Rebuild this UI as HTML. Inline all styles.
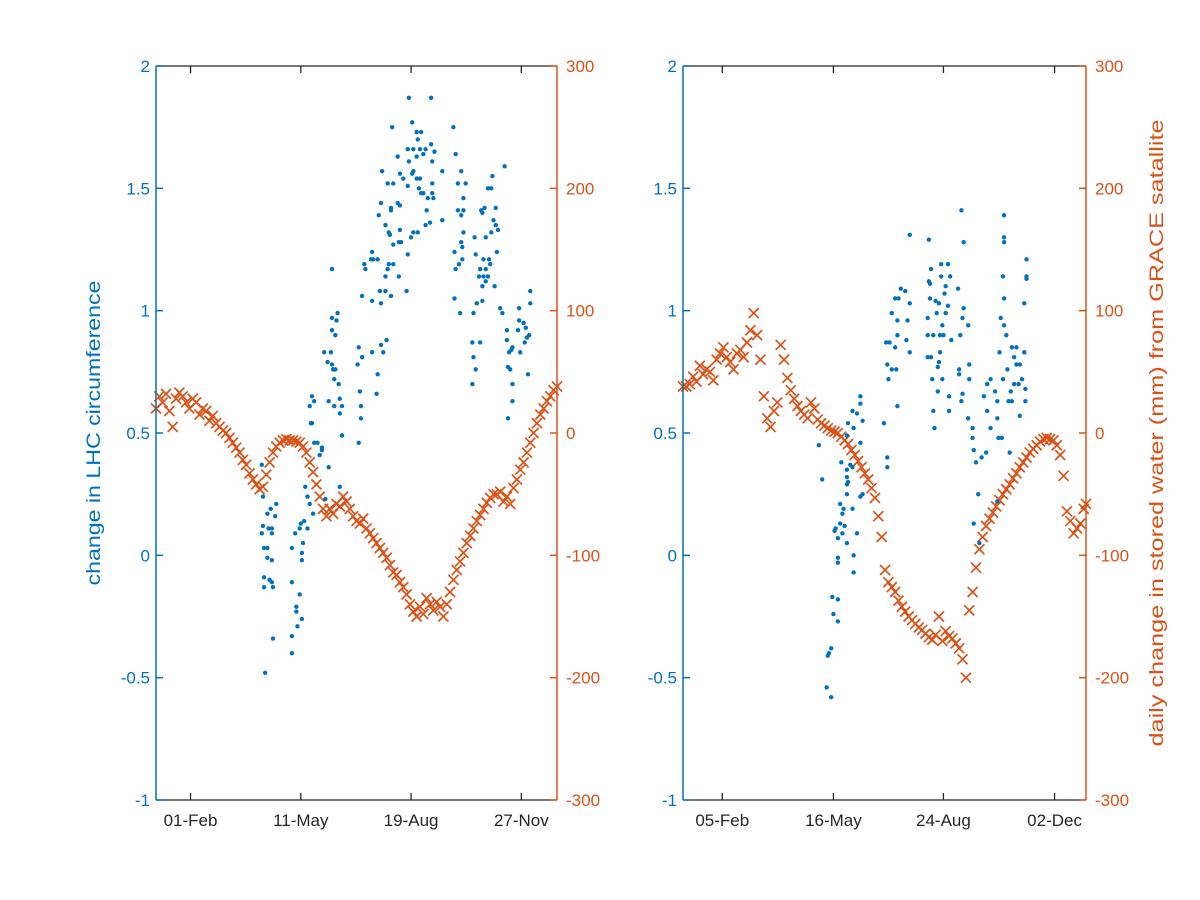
<!DOCTYPE html>
<html><head><meta charset="utf-8"><style>
html,body{margin:0;padding:0;background:#fff;}
svg{display:block;font-family:"Liberation Sans",Helvetica,Arial,sans-serif;}
</style></head><body>
<svg id="chart" width="1200" height="900" viewBox="0 0 1200 900" xmlns="http://www.w3.org/2000/svg">
<rect width="1200" height="900" fill="#fff"/>
<text transform="translate(100,433) rotate(-90)" text-anchor="middle" font-size="19" fill="#0072BD" textLength="305" lengthAdjust="spacingAndGlyphs">change in LHC circumference</text>
<text transform="translate(1163,433) rotate(-90)" text-anchor="middle" font-size="19" fill="#D95319" textLength="627" lengthAdjust="spacingAndGlyphs">daily change in stored water (mm) from GRACE satallite</text>
</svg>
<script>
// ---------- shared ticks ----------
const leftTickValues = [-1, -0.5, 0, 0.5, 1, 1.5, 2];
const leftTickLabels = ["-1", "-0.5", "0", "0.5", "1", "1.5", "2"];
const rightTickValues = [-300, -200, -100, 0, 100, 200, 300];
const rightTickLabels = ["-300", "-200", "-100", "0", "100", "200", "300"];

// ---------- panel 1 ----------
const p1DateTicks = [31, 130, 229, 328];
const p1DateLabels = ["01-Feb", "11-May", "19-Aug", "27-Nov"];
const p1WaterDays = [0,3,6,9,12,15,18,21,24,27,30,33,36,39,42,45,48,51,54,57,60,63,66,69,72,75,78,81,84,87,90,93,96,99,102,105,108,111,114,117,120,123,126,129,132,135,138,141,144,147,150,153,156,159,162,165,168,171,174,177,180,183,186,189,192,195,198,201,204,207,210,213,216,219,222,225,228,231,234,237,240,243,246,249,252,255,258,261,264,267,270,273,276,279,282,285,288,291,294,297,300,303,306,309,312,315,318,321,324,327,330,333,336,339,342,345,348,351,354,357,360];
const p1WaterValues = [20,30,25,32,18,5,28,33,30,25,20,28,25,15,20,18,10,14,8,5,2,0,-4,-8,-12,-16,-22,-26,-33,-38,-42,-46,-44,-34,-24,-16,-11,-8,-6,-5,-6,-6,-7,-8,-11,-16,-24,-32,-42,-52,-62,-68,-62,-66,-58,-60,-52,-56,-62,-68,-72,-74,-70,-78,-82,-86,-90,-94,-98,-102,-108,-114,-116,-122,-126,-132,-140,-146,-150,-142,-148,-135,-140,-145,-138,-142,-150,-140,-130,-120,-112,-105,-98,-90,-84,-78,-72,-67,-62,-57,-53,-50,-50,-48,-56,-52,-58,-45,-38,-30,-24,-16,-8,0,8,15,20,26,30,35,38];
const p1LhcDays = [227,247,230,212,267,234,238,235,226,231,247,242,237,250,217,234,240,227,248,269,313,257,274,203,231,208,213,219,222,230,234,237,302,248,226,236,240,238,248,249,244,271,278,301,298,276,202,211,211,217,219,243,271,276,274,295,292,293,305,200,257,206,246,242,303,305,307,301,276,209,210,219,235,231,229,286,296,218,220,213,274,275,268,287,306,226,194,193,195,199,187,188,208,209,213,269,272,275,291,294,299,300,296,158,290,294,298,206,218,296,293,304,201,185,206,211,225,194,202,268,293,288,336,336,309,311,273,285,158,163,162,326,326,330,332,335,333,331,315,315,325,158,161,207,202,204,194,182,185,181,157,151,154,158,159,161,160,164,284,291,285,287,284,319,317,320,316,318,320,327,334,199,198,183,184,184,320,316,140,142,138,155,160,167,165,165,139,140,167,167,182,142,145,149,149,147,155,95,165,134,136,138,152,96,108,103,100,107,141,133,130,96,101,104,125,136,95,104,129,97,100,122,132,131,100,104,131,122,129,97,102,97,104,105,126,126,131,127,105,122,122,98];
const p1LhcValues = [1.87,1.87,1.77,1.75,1.75,1.73,1.73,1.70,1.66,1.66,1.68,1.66,1.66,1.65,1.63,1.63,1.64,1.61,1.61,1.64,1.59,1.57,1.57,1.57,1.57,1.52,1.52,1.56,1.54,1.56,1.54,1.54,1.55,1.52,1.51,1.50,1.48,1.48,1.48,1.46,1.46,1.52,1.52,1.50,1.50,1.46,1.44,1.42,1.41,1.44,1.43,1.41,1.41,1.41,1.39,1.42,1.41,1.40,1.42,1.39,1.37,1.35,1.36,1.35,1.37,1.35,1.33,1.32,1.32,1.32,1.31,1.33,1.32,1.32,1.30,1.30,1.30,1.28,1.28,1.27,1.28,1.26,1.24,1.23,1.24,1.23,1.24,1.21,1.21,1.21,1.19,1.17,1.17,1.19,1.19,1.17,1.19,1.21,1.17,1.21,1.21,1.19,1.17,1.17,1.14,1.14,1.14,1.14,1.14,1.12,1.10,1.10,1.08,1.06,1.08,1.06,1.08,1.04,1.03,1.05,1.04,1.03,1.08,1.03,1.01,0.99,0.99,0.99,0.97,0.99,0.96,1.01,0.96,0.95,0.93,0.90,0.89,0.87,0.92,0.88,0.92,0.92,0.90,0.88,0.86,0.83,0.83,0.85,0.81,0.78,0.83,0.83,0.79,0.78,0.76,0.76,0.72,0.70,0.87,0.87,0.81,0.76,0.70,0.84,0.83,0.85,0.77,0.76,0.70,0.83,0.74,0.74,0.66,0.67,0.61,0.56,0.63,0.56,0.65,0.63,0.61,0.63,0.61,0.61,0.64,0.58,0.54,0.54,0.49,0.49,0.46,0.46,0.46,0.44,0.43,0.41,0.36,0.37,0.28,0.28,0.24,0.21,0.23,0.24,0.21,0.19,0.17,0.16,0.17,0.14,0.13,0.12,0.11,0.11,0.09,0.11,0.09,0.09,0.11,0.03,0.03,0.03,0.05,0.01,-0.01,-0.02,-0.02,-0.11,-0.16,-0.09,-0.10,-0.13,-0.11,-0.13,-0.21,-0.23,-0.26,-0.29,-0.34,-0.33,-0.40,-0.48];

// ---------- panel 2 ----------
const p2DateTicks = [37, 136, 234, 333];
const p2DateLabels = ["05-Feb", "16-May", "24-Aug", "02-Dec"];
const p2WaterDays = [2,5,8,11,14,17,20,23,26,29,32,35,38,41,44,47,50,53,56,59,62,65,68,71,74,77,80,83,86,89,92,95,98,101,104,107,110,113,116,119,122,125,128,131,134,137,140,143,146,149,152,155,158,161,164,167,170,173,176,179,182,185,188,191,194,197,200,203,206,209,212,215,218,221,224,227,230,233,236,239,242,245,248,251,254,257,260,263,266,269,272,275,278,281,284,287,290,293,296,299,302,305,308,311,314,317,320,323,326,329,332,335,338,341,344,347,350,353,356,359,361];
const p2WaterValues = [38,38,40,46,42,55,48,52,50,43,60,65,70,62,58,52,65,68,62,74,84,98,80,60,30,12,5,18,25,72,60,45,35,28,22,18,15,12,25,20,11,8,6,4,2,1,0,-3,-6,-9,-14,-18,-23,-28,-33,-38,-45,-53,-68,-85,-112,-122,-126,-130,-137,-142,-146,-150,-153,-156,-159,-161,-164,-167,-169,-165,-150,-170,-162,-166,-168,-172,-176,-185,-200,-145,-130,-110,-95,-85,-76,-70,-65,-60,-55,-50,-46,-42,-37,-33,-28,-24,-20,-16,-13,-10,-7,-5,-4,-5,-6,-10,-18,-35,-64,-72,-82,-78,-74,-62,-58];
const p2LhcDays = [250,288,204,221,252,288,288,308,308,308,232,238,223,221,222,232,240,236,287,196,200,247,235,191,194,204,222,227,230,238,288,306,252,188,220,228,236,251,285,256,193,202,288,233,249,220,225,231,234,241,290,193,201,183,186,191,204,220,223,231,284,295,299,306,297,302,230,229,184,188,248,257,192,291,299,185,248,224,233,257,287,297,304,301,276,273,280,294,307,193,229,239,251,250,270,282,292,295,307,225,239,273,282,302,256,260,226,276,283,286,260,261,293,263,268,272,265,282,261,266,160,160,157,153,162,149,154,160,123,148,143,151,153,148,148,149,148,162,160,148,142,145,153,144,142,146,138,137,144,157,140,148,154,140,140,154,126,181,184,184,135,140,136,140,134,132,131,130,134];
const p2LhcValues = [1.41,1.39,1.31,1.29,1.28,1.30,1.28,1.21,1.14,1.13,1.19,1.19,1.17,1.12,1.11,1.14,1.14,1.10,1.14,1.09,1.08,1.09,1.07,1.05,1.05,1.03,1.05,1.04,1.03,1.02,1.05,1.03,1.01,0.99,0.97,0.99,0.99,0.97,0.97,0.94,0.96,0.96,0.94,0.94,0.90,0.90,0.90,0.90,0.90,0.88,0.90,0.90,0.88,0.87,0.87,0.85,0.83,0.81,0.81,0.83,0.83,0.85,0.85,0.83,0.81,0.78,0.79,0.77,0.78,0.76,0.76,0.78,0.76,0.76,0.78,0.72,0.74,0.72,0.72,0.72,0.72,0.70,0.72,0.70,0.72,0.70,0.67,0.67,0.68,0.61,0.67,0.65,0.66,0.63,0.65,0.63,0.63,0.63,0.63,0.59,0.59,0.59,0.56,0.57,0.56,0.52,0.52,0.52,0.48,0.48,0.48,0.43,0.42,0.38,0.40,0.42,0.25,0.22,0.13,0.05,0.65,0.62,0.58,0.59,0.55,0.54,0.52,0.46,0.45,0.49,0.38,0.37,0.36,0.35,0.32,0.30,0.29,0.25,0.24,0.25,0.21,0.19,0.19,0.17,0.13,0.12,0.11,0.10,0.09,0.09,0.07,0.05,0.00,-0.01,-0.03,-0.07,0.31,0.54,0.40,0.36,-0.17,-0.18,-0.24,-0.27,-0.38,-0.40,-0.41,-0.54,-0.58];

const NS = "http://www.w3.org/2000/svg";
const svg = document.getElementById("chart");
const BLUE = "#0072BD", ORANGE = "#D95319", DARK = "#262626";
function mk(tag, attrs, parent) {
  const e = document.createElementNS(NS, tag);
  for (const k in attrs) e.setAttribute(k, attrs[k]);
  (parent || svg).appendChild(e);
  return e;
}

function drawPanel(id, x0, x1, d0, d1, dateTicks, dateLabels, wDays, wVals, lDays, lVals) {
  const top = 66, bot = 800;
  const sx = d => x0 + (d - d0) / (d1 - d0) * (x1 - x0);
  const syL = v => bot - (v - (-1)) / 3 * (bot - top);
  const syR = v => bot - (v - (-300)) / 600 * (bot - top);
  const g = mk("g", {});
  
  

  const gw = mk("g", {stroke: ORANGE, "stroke-width": 1.7, fill: "none"}, g);
  
  
  for (let i = 0; i < wDays.length; i++) {
    const cx = sx(wDays[i]), cy = syR(wVals[i]), s = 5;
    const p = mk("path", {d: `M${cx-s},${cy-s}L${cx+s},${cy+s}M${cx-s},${cy+s}L${cx+s},${cy-s}`}, gw);
    
    
  }
  const gl = mk("g", {fill: BLUE}, g);
  
  
  for (let i = 0; i < lDays.length; i++) {
    const c = mk("circle", {cx: sx(lDays[i]), cy: syL(lVals[i]), r: 2.2}, gl);
    
    
  }

  const axB = mk("path", {d: `M${x0},${bot}H${x1}M${x0},${top}H${x1}`, stroke: DARK, "stroke-width": 1.3, fill: "none"}, g);
  
  
  for (let i = 0; i < dateTicks.length; i++) {
    const x = sx(dateTicks[i]);
    const t = mk("path", {d: `M${x},${bot}V${bot-7}M${x},${top}V${top+7}`, stroke: DARK, "stroke-width": 1.3}, g);
    
    
    const lb = mk("text", {x: x, y: 826, "text-anchor": "middle", "font-size": 17, fill: DARK}, g);
    lb.textContent = dateLabels[i];
    
    
  }
  const axL = mk("path", {d: `M${x0},${top}V${bot}`, stroke: BLUE, "stroke-width": 1.5}, g);
  
  
  for (let i = 0; i < leftTickValues.length; i++) {
    const y = syL(leftTickValues[i]);
    const t = mk("path", {d: `M${x0},${y}H${x0+7}`, stroke: BLUE, "stroke-width": 1.5}, g);
    
    
    const lb = mk("text", {x: x0 - 6, y: y + 6, "text-anchor": "end", "font-size": 17, fill: BLUE}, g);
    lb.textContent = leftTickLabels[i];
    
    
  }
  const axR = mk("path", {d: `M${x1},${top}V${bot}`, stroke: ORANGE, "stroke-width": 1.5}, g);
  
  
  for (let i = 0; i < rightTickValues.length; i++) {
    const y = syR(rightTickValues[i]);
    const t = mk("path", {d: `M${x1},${y}H${x1-7}`, stroke: ORANGE, "stroke-width": 1.5}, g);
    
    
    const lb = mk("text", {x: x1 + 9, y: y + 6, "text-anchor": "start", "font-size": 17, fill: ORANGE}, g);
    lb.textContent = rightTickLabels[i];
    
    
  }
}

drawPanel('left-panel', 156, 557, 0, 360, p1DateTicks, p1DateLabels, p1WaterDays, p1WaterValues, p1LhcDays, p1LhcValues);
drawPanel('right-panel', 683, 1086, 2, 361, p2DateTicks, p2DateLabels, p2WaterDays, p2WaterValues, p2LhcDays, p2LhcValues);
</script>
</body></html>
